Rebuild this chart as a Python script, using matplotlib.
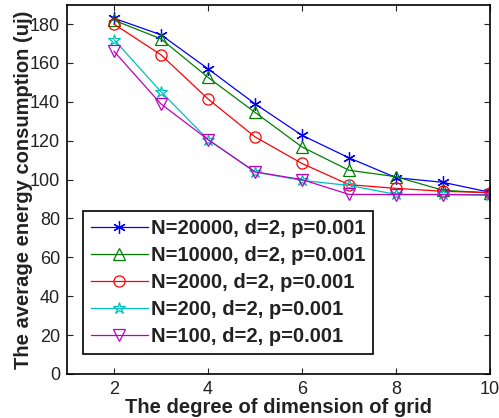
import matplotlib.pyplot as plt

# x values: degree of dimension of grid
grid_deg = [2, 3, 4, 5, 6, 7, 8, 9, 10]

# average energy consumption (uj) for each network size
e_20000 = [183.0, 174.5, 157.0, 139.0, 122.8, 111.2, 101.0, 98.6, 93.5]
e_10000 = [182.0, 172.4, 152.6, 134.6, 116.8, 104.8, 101.5, 94.5, 93.2]
e_2000 = [180.0, 164.2, 141.5, 122.0, 108.3, 97.4, 95.5, 94.0, 93.3]
e_200 = [172.0, 145.2, 120.6, 103.9, 99.6, 97.0, 92.4, 92.4, 92.2]
e_100 = [166.0, 138.9, 120.6, 104.0, 100.0, 92.4, 92.3, 92.3, 92.0]

labels = ['N=20000, d=2, p=0.001', 'N=10000, d=2, p=0.001',
          'N=2000, d=2, p=0.001', 'N=200, d=2, p=0.001',
          'N=100, d=2, p=0.001']

plt.rcParams['font.family'] = ['Liberation Sans', 'DejaVu Sans']

fig = plt.figure(figsize=(4.99, 4.18), dpi=100)
ax = fig.add_axes([0.1343, 0.1053, 0.8477, 0.8835])

series = [e_20000, e_10000, e_2000, e_200, e_100]
# MATLAB-like markers: asterisk, triangle, circle, pentagram, down triangle
styles = [('#0000ff', (6, 2, 0), 9), ('#008000', '^', 8), ('#ff0000', 'o', 8),
          ('#00bfbf', '*', 9), ('#bf00bf', 'v', 8)]
for vals, lab, (c, m, ms) in zip(series, labels, styles):
    ax.plot(grid_deg, vals, color=c, marker=m, markersize=ms, lw=0.9,
            markerfacecolor='none', markeredgecolor=c, markeredgewidth=0.9,
            label=lab)

ax.set_xlim(1, 10)
ax.set_ylim(0, 190)
ax.set_xticks([2, 4, 6, 8, 10])
ax.set_yticks(range(0, 181, 20))
ax.tick_params(direction='in', top=True, right=True, labelsize=13,
               length=4, width=0.8, colors='#222222', pad=5)
for s in ax.spines.values():
    s.set_linewidth(1.2)

ax.set_xlabel('The degree of dimension of grid', fontsize=14.5, fontweight='bold',
              labelpad=0, color='#222222')
ax.set_ylabel('The average energy consumption (uj)', fontsize=14.5,
              fontweight='bold', labelpad=-2, color='#222222')

leg = ax.legend(loc='lower left', bbox_to_anchor=(0.038, 0.054),
                prop={'weight': 'bold', 'size': 14.5}, fancybox=False,
                framealpha=1, edgecolor='black', handlelength=2.8,
                borderpad=0.4, labelspacing=0.4, handletextpad=0.15,
                borderaxespad=0)
leg.get_frame().set_linewidth(1.2)
for t in leg.get_texts():
    t.set_color('#222222')

fig.savefig('out.png', dpi=100)
